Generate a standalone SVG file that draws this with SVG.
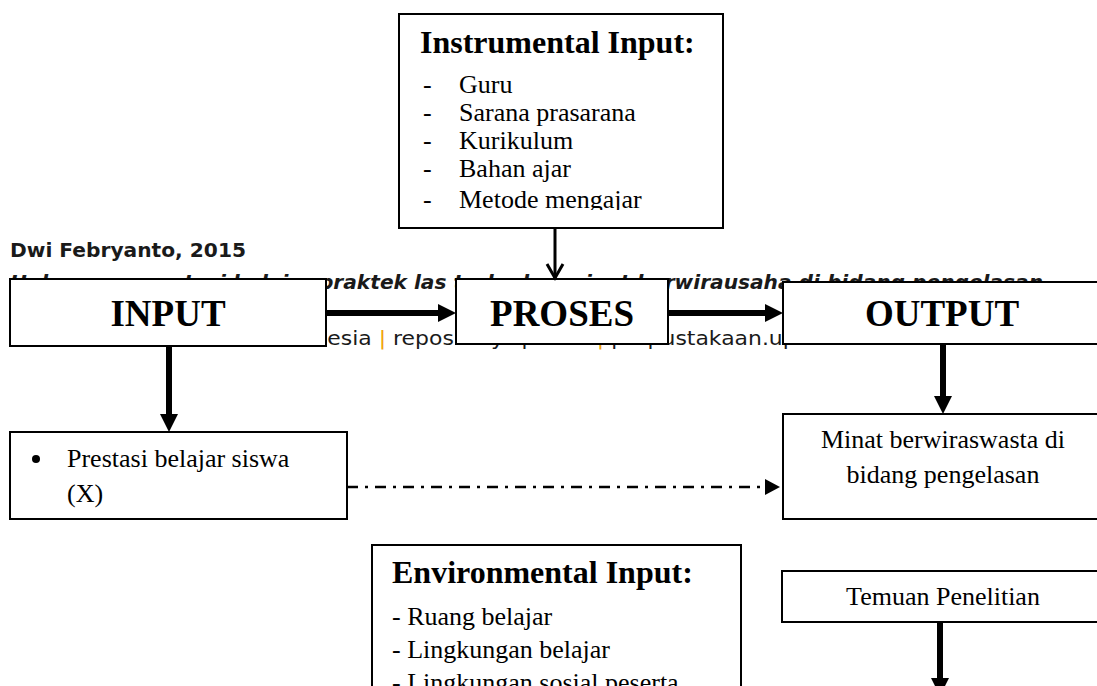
<svg xmlns="http://www.w3.org/2000/svg" width="1097" height="686" viewBox="0 0 1097 686">
  <style>
    .box { fill: #ffffff; stroke: #000000; stroke-width: 2; }
    .serif { font-family: "Liberation Serif", "Times New Roman", serif; fill: #000000; }
    .big { font-size: 37px; font-weight: bold; text-anchor: middle; }
    .title { font-size: 32px; font-weight: bold; }
    .body { font-size: 26px; }
    .mid { text-anchor: middle; }
    .wm { font-family: "DejaVu Sans", "Liberation Sans", sans-serif; fill: #1a1a1a; }
    .thick { stroke: #000000; stroke-width: 6; fill: none; }
    .thin { stroke: #000000; stroke-width: 3; fill: none; }
    .dashdot { stroke: #000000; stroke-width: 2.5; fill: none; stroke-dasharray: 11 7 3 7; }
  </style>
  <defs>
    <marker id="headFill" markerUnits="userSpaceOnUse" markerWidth="20" markerHeight="20" refX="8" refY="9" orient="auto" overflow="visible">
      <path d="M0,0 L18,9 L0,18 Z" fill="#000000"/>
    </marker>
    <marker id="headSmall" markerUnits="userSpaceOnUse" markerWidth="18" markerHeight="18" refX="9" refY="8" orient="auto" overflow="visible">
      <path d="M0,0 L15,8 L0,16 Z" fill="#000000"/>
    </marker>
    <marker id="headOpen" markerUnits="userSpaceOnUse" markerWidth="18" markerHeight="18" refX="15" refY="8" orient="auto" overflow="visible">
      <path d="M1,0 L15,8 L1,16" fill="none" stroke="#000000" stroke-width="3"/>
    </marker>
    <clipPath id="instClip">
      <rect x="399" y="14" width="324" height="196"/>
    </clipPath>
  </defs>

  <!-- background watermark text -->
  <g id="watermark" class="wm">
    <text x="10" y="257" font-size="20" font-weight="bold" textLength="236" lengthAdjust="spacingAndGlyphs">Dwi Febryanto, 2015</text>
    <text x="10" y="289" font-size="20" font-weight="bold" font-style="italic" textLength="1033" lengthAdjust="spacingAndGlyphs">Hubungan prestasi belajar praktek las terhadap minat berwirausaha di bidang pengelasan</text>
    <text x="10" y="345" font-size="19" textLength="841" lengthAdjust="spacingAndGlyphs">Universitas Pendidikan Indonesia <tspan fill="#f0a30a">|</tspan> repository.upi.edu <tspan fill="#f0a30a">|</tspan> perpustakaan.upi.edu</text>
  </g>

  <g id="node-instrumental">
    <rect class="box" x="399" y="14" width="324" height="214"/>
    <g clip-path="url(#instClip)" class="serif">
      <text class="title" x="420" y="53">Instrumental Input:</text>
      <g class="body">
        <text x="423" y="93">-</text><text x="459" y="93">Guru</text>
        <text x="423" y="121">-</text><text x="459" y="121">Sarana prasarana</text>
        <text x="423" y="149">-</text><text x="459" y="149">Kurikulum</text>
        <text x="423" y="177">-</text><text x="459" y="177">Bahan ajar</text>
        <text x="423" y="208">-</text><text x="459" y="208">Metode mengajar</text>
      </g>
    </g>
  </g>

  <g id="node-input">
    <rect class="box" x="10" y="279" width="316" height="67"/>
    <text class="serif big" x="168" y="326">INPUT</text>
  </g>

  <g id="node-proses">
    <rect class="box" x="456" y="279" width="212" height="65"/>
    <text class="serif big" x="562" y="326">PROSES</text>
  </g>

  <g id="node-output">
    <rect class="box" x="783" y="282" width="330" height="62"/>
    <text class="serif big" x="942" y="326">OUTPUT</text>
  </g>

  <g id="node-prestasi">
    <rect class="box" x="10" y="432" width="337" height="87"/>
    <circle cx="36" cy="459" r="4" fill="#000000"/>
    <text class="serif body" x="67" y="467">Prestasi belajar siswa</text>
    <text class="serif body" x="67" y="502">(X)</text>
  </g>

  <g id="node-minat">
    <rect class="box" x="783" y="414" width="330" height="105"/>
    <text class="serif body mid" x="943" y="448">Minat berwiraswasta di</text>
    <text class="serif body mid" x="943" y="483">bidang pengelasan</text>
  </g>

  <g id="node-environmental">
    <rect class="box" x="372" y="545" width="369" height="160"/>
    <text class="serif title" x="392" y="583">Environmental Input:</text>
    <text class="serif body" x="392" y="625">- Ruang belajar</text>
    <text class="serif body" x="392" y="658">- Lingkungan belajar</text>
    <text class="serif body" x="392" y="691">- Lingkungan sosial peserta</text>
  </g>

  <g id="node-temuan">
    <rect class="box" x="782" y="571" width="330" height="51"/>
    <text class="serif body mid" x="943" y="605">Temuan Penelitian</text>
  </g>

  <g id="connectors">
    <line class="thin" x1="555" y1="228" x2="555" y2="278" marker-end="url(#headOpen)"/>
    <line class="thick" x1="326" y1="313" x2="446" y2="313" marker-end="url(#headFill)"/>
    <line class="thick" x1="668" y1="313" x2="773" y2="313" marker-end="url(#headFill)"/>
    <line class="thick" x1="169" y1="346" x2="169" y2="422" marker-end="url(#headFill)"/>
    <line class="thick" x1="943" y1="344" x2="943" y2="404" marker-end="url(#headFill)"/>
    <line class="dashdot" x1="347" y1="487" x2="774" y2="487" marker-end="url(#headSmall)"/>
    <line class="thick" x1="940" y1="622" x2="940" y2="686" marker-end="url(#headFill)"/>
  </g>
</svg>
